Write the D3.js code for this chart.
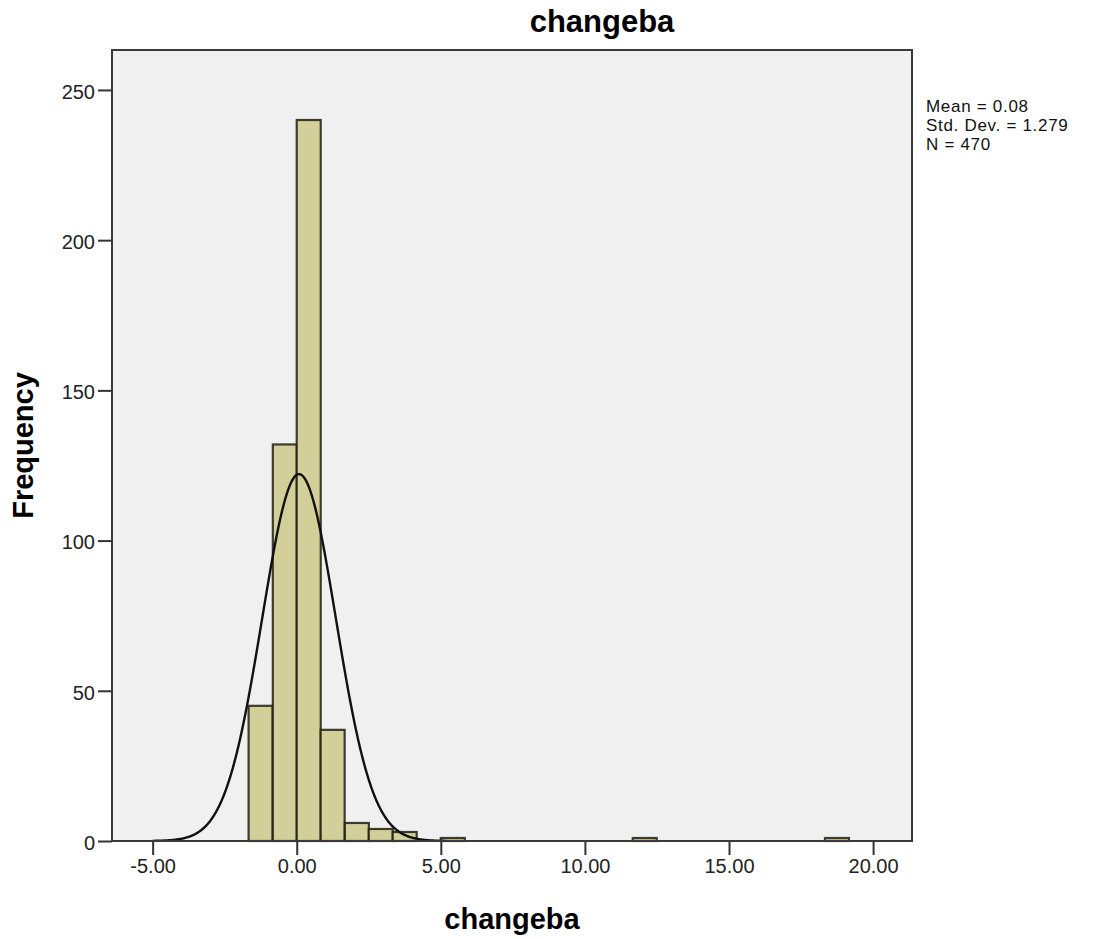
<!DOCTYPE html>
<html>
<head>
<meta charset="utf-8">
<script src="https://cdn.jsdelivr.net/npm/d3@7"></script>
<style>
  body { margin: 0; background: #fff; }
  text { font-family: "Liberation Sans", Arial, sans-serif; }
</style>
</head>
<body>
<svg id="chart" width="1096" height="939"></svg>
<script>
// histogram bins (lower edge of each non-empty bin) and their counts
const binLower = [-1.67, -0.83, 0.00, 0.83, 1.67, 2.50, 3.33, 5.00, 11.66, 18.33];
const binWidth = 0.833;
const counts = [45, 132, 240, 37, 6, 4, 3, 1, 1, 1];

const xTicks = [-5, 0, 5, 10, 15, 20];
const yTicks = [0, 50, 100, 150, 200, 250];

const stats = { mean: 0.08, sd: 1.279, n: 470 };
const statLines = ["Mean = 0.08", "Std. Dev. = 1.279", "N = 470"];

const plot = { left: 112, top: 50, right: 912, bottom: 841 };

const svg = d3.select("#chart");

const x = d3.scaleLinear()
    .domain([-6.41, 21.35])
    .range([plot.left, plot.right]);

const y = d3.scaleLinear()
    .domain([0, 263.3])
    .range([plot.bottom, plot.top]);

// plot background
svg.append("rect")
    .attr("x", plot.left)
    .attr("y", plot.top)
    .attr("width", plot.right - plot.left)
    .attr("height", plot.bottom - plot.top)
    .attr("fill", "#f0f0f0");

// bars
svg.append("g").selectAll("rect")
    .data(binLower)
    .enter().append("rect")
    .attr("x", d => x(d))
    .attr("width", d => x(d + binWidth) - x(d))
    .attr("y", (d, i) => y(counts[i]))
    .attr("height", (d, i) => y(0) - y(counts[i]))
    .attr("fill", "#d3cf98")
    .attr("stroke", "#1e1e14")
    .attr("stroke-opacity", 0.85)
    .attr("stroke-width", 2.2);

// fitted normal curve from the shown stats
const scaleN = stats.n * binWidth / (stats.sd * Math.sqrt(2 * Math.PI));
const curvePts = d3.range(stats.mean - 4 * stats.sd, stats.mean + 4 * stats.sd + 0.001, 0.02)
    .map(v => [v, scaleN * Math.exp(-0.5 * Math.pow((v - stats.mean) / stats.sd, 2))]);

svg.append("path")
    .datum(curvePts)
    .attr("fill", "none")
    .attr("stroke", "#111")
    .attr("stroke-width", 2.4)
    .attr("d", d3.line().x(d => x(d[0])).y(d => y(d[1])));

// axes
const fmt = d3.format(".2f");
const xAxis = d3.axisBottom(x)
    .tickValues(xTicks)
    .tickSize(14)
    .tickPadding(4)
    .tickFormat(d => fmt(d).replace("\u2212", "-"));

const gx = svg.append("g")
    .attr("transform", "translate(0," + plot.bottom + ")")
    .call(xAxis);

const yAxis = d3.axisLeft(y)
    .tickValues(yTicks)
    .tickSize(14)
    .tickPadding(3);

const gy = svg.append("g")
    .attr("transform", "translate(" + plot.left + ",0)")
    .call(yAxis);

[gx, gy].forEach(g => {
    g.select(".domain").remove();
    g.selectAll(".tick line").attr("stroke", "#333").attr("stroke-width", 2);
    g.selectAll(".tick text")
        .attr("font-size", 20)
        .attr("fill", "#222")
        .style("font-family", "'Liberation Sans', Arial, sans-serif");
});
gy.selectAll(".tick text").attr("dy", "0.42em");

// frame
svg.append("rect")
    .attr("x", plot.left)
    .attr("y", plot.top)
    .attr("width", plot.right - plot.left)
    .attr("height", plot.bottom - plot.top)
    .attr("fill", "none")
    .attr("stroke", "#3a3a3a")
    .attr("stroke-width", 2);

// titles
svg.append("text")
    .attr("x", 602)
    .attr("y", 32)
    .attr("text-anchor", "middle")
    .attr("font-size", 31)
    .attr("font-weight", "bold")
    .text("changeba");

svg.append("text")
    .attr("x", (plot.left + plot.right) / 2)
    .attr("y", 929)
    .attr("text-anchor", "middle")
    .attr("font-size", 29)
    .attr("font-weight", "bold")
    .text("changeba");

svg.append("text")
    .attr("transform", "translate(33," + (plot.top + plot.bottom) / 2 + ") rotate(-90)")
    .attr("text-anchor", "middle")
    .attr("font-size", 29)
    .attr("font-weight", "bold")
    .text("Frequency");

// stats box text
svg.append("g").selectAll("text")
    .data(statLines)
    .enter().append("text")
    .attr("x", 926)
    .attr("y", (d, i) => 112 + i * 19)
    .attr("font-size", 17)
    .attr("letter-spacing", 0.7)
    .attr("fill", "#111")
    .text(d => d);
</script>
</body>
</html>
